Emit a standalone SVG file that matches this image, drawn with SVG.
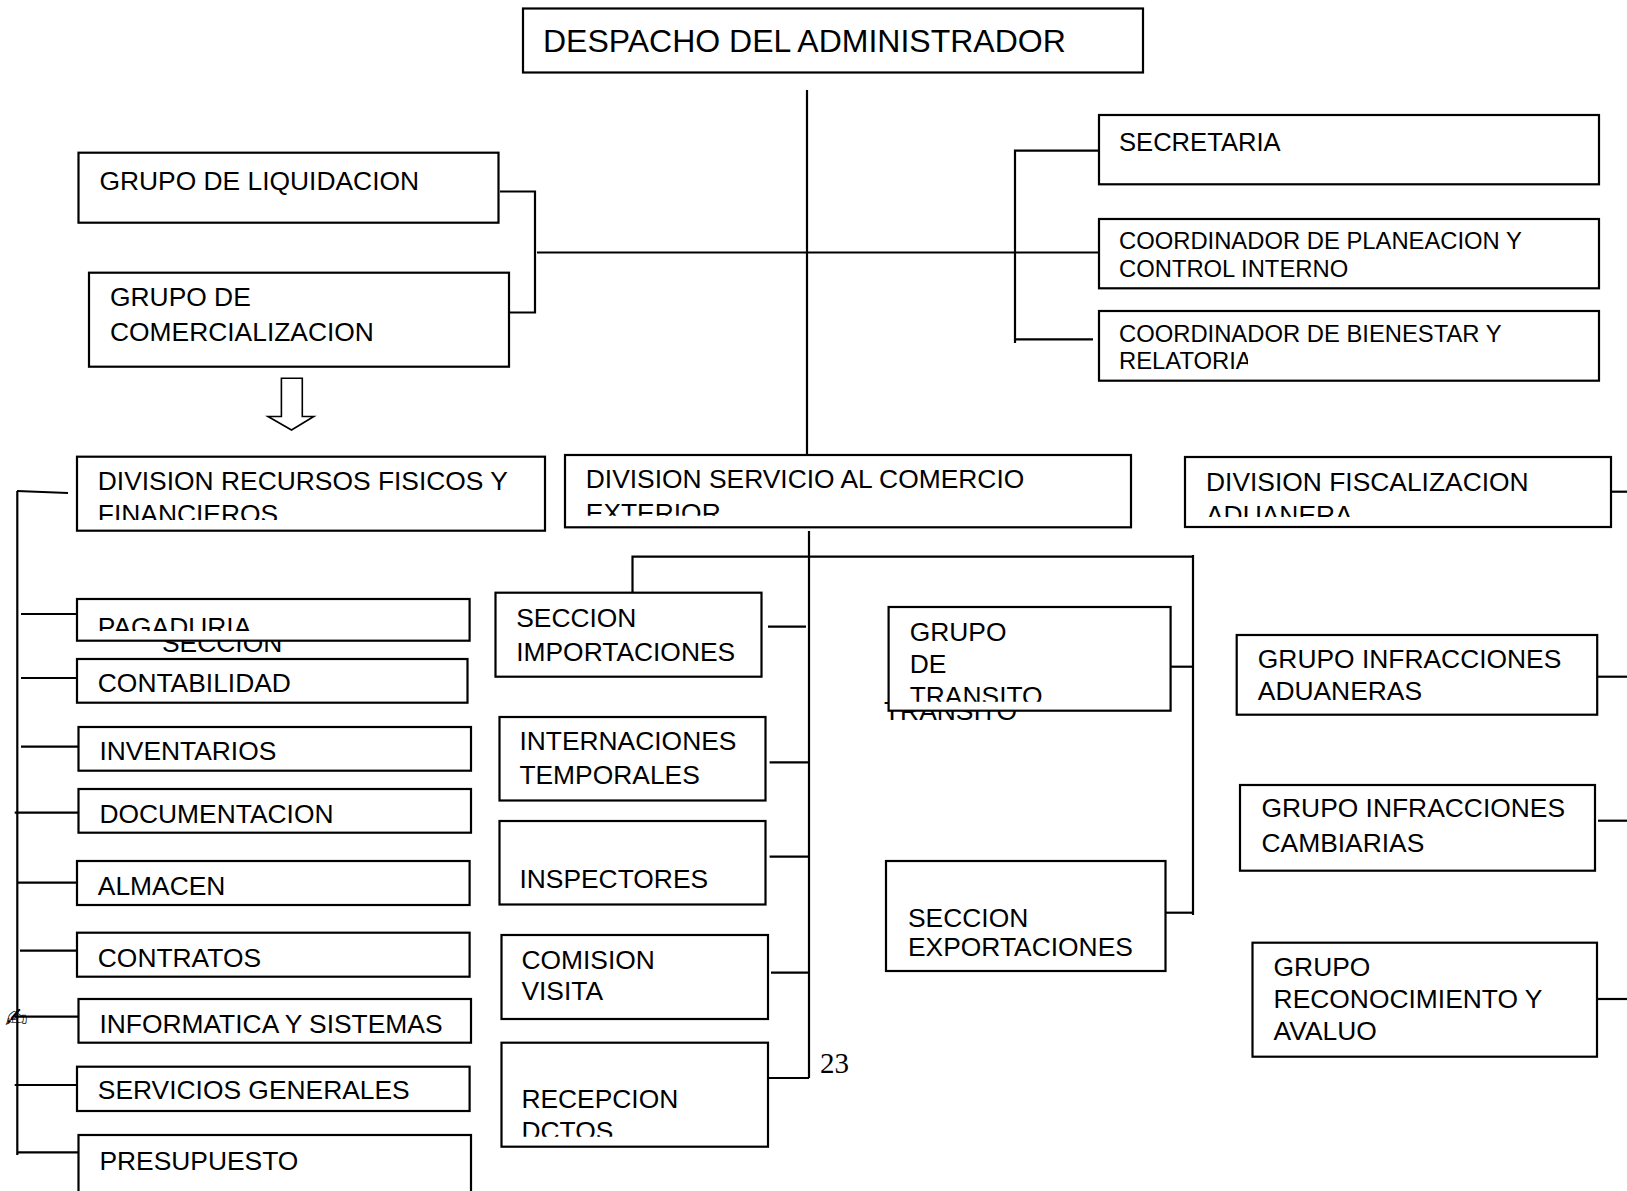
<svg xmlns="http://www.w3.org/2000/svg" width="1627" height="1191" viewBox="0 0 1627 1191">
<style>
.box{fill:#fff;stroke:#000;stroke-width:2.2}
.ln{fill:none;stroke:#000;stroke-width:2.2}
text{font-family:"Liberation Sans",Arial,sans-serif;font-size:26.4px;fill:#000}
.sm{font-size:23.8px}
.big{font-size:32px}
.ser{font-family:"Liberation Serif","Times New Roman",serif;font-size:29px}
</style>
<defs>
<clipPath id="cRec"><rect x="70" y="450" width="480" height="70"/></clipPath>
<clipPath id="cSer"><rect x="560" y="450" width="575" height="65.7"/></clipPath>
<clipPath id="cFis"><rect x="1180" y="450" width="435" height="67"/></clipPath>
<clipPath id="cPag"><rect x="70" y="595" width="400" height="36"/></clipPath>
<clipPath id="cTra"><rect x="885" y="600" width="290" height="101.7"/></clipPath>
<clipPath id="cDct"><rect x="495" y="1040" width="280" height="96.7"/></clipPath>
<clipPath id="cRel"><rect x="1100" y="300" width="148" height="90"/></clipPath>
</defs>

<g id="connectors">
<path class="ln" d="M807,90 V455"/>
<path class="ln" d="M537,252.5 H1098"/>
<path class="ln" d="M500,191.5 H535 V312.5 H502"/>
<path class="ln" d="M1098,150.7 H1015 V343"/>
<path class="ln" d="M1015,339.3 H1093"/>
<path class="ln" d="M17.3,491 V1155"/>
<path class="ln" d="M17,491 L68,493"/>
<path class="ln" d="M21,614 H77"/>
<path class="ln" d="M21,678 H77"/>
<path class="ln" d="M21,746.7 H78.5"/>
<path class="ln" d="M14.7,812.7 H78.5"/>
<path class="ln" d="M17,882.7 H77"/>
<path class="ln" d="M20,950.7 H77"/>
<path class="ln" d="M14.7,1016.7 H78.5"/>
<path class="ln" d="M14.7,1085 H77"/>
<path class="ln" d="M17,1152.3 H78.5"/>
<path class="ln" d="M809,531 V1078"/>
<path class="ln" d="M632.5,592.7 V556.7 H1193"/>
<path class="ln" d="M1193,555 V915"/>
<path class="ln" d="M768,626.7 H806"/>
<path class="ln" d="M769.6,762.3 H809"/>
<path class="ln" d="M769.6,856.7 H809"/>
<path class="ln" d="M771,972.7 H809"/>
<path class="ln" d="M768.6,1078 H809"/>
<path class="ln" d="M1170.8,666.7 H1193"/>
<path class="ln" d="M1165,912.7 H1193"/>
<path class="ln" d="M1611,491.7 H1627"/>
<path class="ln" d="M1598,676.7 H1627"/>
<path class="ln" d="M1598,820.7 H1627"/>
<path class="ln" d="M1598,999 H1627"/>
<polygon fill="#fff" stroke="#000" stroke-width="1.6" points="281.4,378.3 302.3,378.3 302.3,416.5 313.8,416.5 291.5,430 268,416.5 281.4,416.5"/>
</g>

<text x="162" y="652">SECCION</text>
<text x="884" y="719.5">TRANSITO</text>

<g id="despacho"><rect class="box" x="523" y="8.5" width="620" height="64"/><text class="big" x="543" y="51.5">DESPACHO DEL ADMINISTRADOR</text></g>
<g id="liquidacion"><rect class="box" x="78.5" y="152.7" width="420" height="70"/><text x="99.4" y="189.5">GRUPO DE LIQUIDACION</text></g>
<g id="comercializacion"><rect class="box" x="89" y="272.7" width="420" height="94"/><text x="110" y="306">GRUPO DE</text><text x="110" y="340.7">COMERCIALIZACION</text></g>
<g id="secretaria"><rect class="box" x="1099" y="115" width="500" height="69.3"/><text x="1119" y="150.7" style="font-size:25.6px">SECRETARIA</text></g>
<g id="planeacion"><rect class="box" x="1099" y="219" width="500" height="69.3"/><text class="sm" x="1119" y="249.3">COORDINADOR DE PLANEACION Y</text><text class="sm" x="1119" y="276.7">CONTROL INTERNO</text></g>
<g id="bienestar"><rect class="box" x="1099" y="311" width="500" height="69.7"/><text class="sm" x="1119" y="341.7">COORDINADOR DE BIENESTAR Y</text><text class="sm" x="1119" y="368.5" clip-path="url(#cRel)">RELATORIA</text></g>

<g id="div-recursos"><rect class="box" x="77" y="456.7" width="468" height="74"/><g clip-path="url(#cRec)"><text x="97.8" y="490">DIVISION RECURSOS FISICOS Y</text><text x="97.8" y="523">FINANCIEROS</text></g></g>
<g id="div-servicio"><rect class="box" x="565" y="455" width="566" height="72.3"/><g clip-path="url(#cSer)"><text x="585.8" y="488.3">DIVISION SERVICIO AL COMERCIO</text><text x="585.8" y="522">EXTERIOR</text></g></g>
<g id="div-fiscalizacion"><rect class="box" x="1185" y="457" width="426" height="70"/><g clip-path="url(#cFis)"><text x="1206" y="491">DIVISION FISCALIZACION</text><text x="1206" y="524">ADUANERA</text></g></g>

<g id="pagaduria"><rect class="box" x="77" y="599" width="392.6" height="41.7"/><text x="97.8" y="636" clip-path="url(#cPag)">PAGADURIA</text></g>
<g id="contabilidad"><rect class="box" x="77" y="659" width="390.5" height="43.7"/><text x="97.8" y="691.7">CONTABILIDAD</text></g>
<g id="inventarios"><rect class="box" x="78.5" y="727" width="392.5" height="43.7"/><text x="99.4" y="760">INVENTARIOS</text></g>
<g id="documentacion"><rect class="box" x="78.5" y="789" width="392.5" height="43.7"/><text x="99.4" y="822.7">DOCUMENTACION</text></g>
<g id="almacen"><rect class="box" x="77" y="861" width="392.6" height="44"/><text x="97.8" y="895">ALMACEN</text></g>
<g id="contratos"><rect class="box" x="77" y="932.7" width="392.6" height="44"/><text x="97.8" y="966.7">CONTRATOS</text></g>
<g id="informatica"><rect class="box" x="78.5" y="999" width="392.5" height="43.7"/><text x="99.4" y="1032.7">INFORMATICA Y SISTEMAS</text></g>
<g id="servicios"><rect class="box" x="77" y="1066.7" width="392.6" height="44.3"/><text x="97.8" y="1099.3">SERVICIOS GENERALES</text></g>
<g id="presupuesto"><rect class="box" x="78.5" y="1135" width="392.5" height="70"/><text x="99.4" y="1170">PRESUPUESTO</text></g>
<text x="5" y="1027" style="font-family:'DejaVu Sans',sans-serif;font-size:27px">✍</text>

<g id="importaciones"><rect class="box" x="495.5" y="592.7" width="266" height="84"/><text x="516.2" y="626.7">SECCION</text><text x="516.2" y="660.7">IMPORTACIONES</text></g>
<g id="internaciones"><rect class="box" x="499.5" y="717" width="266" height="83.5"/><text x="519.4" y="750">INTERNACIONES</text><text x="519.4" y="784">TEMPORALES</text></g>
<g id="inspectores"><rect class="box" x="499.5" y="821" width="266" height="83.5"/><text x="519.4" y="888.3">INSPECTORES</text></g>
<g id="comision"><rect class="box" x="501.5" y="935" width="266.5" height="84"/><text x="521.4" y="969.3">COMISION</text><text x="521.4" y="1000">VISITA</text></g>
<g id="recepcion"><rect class="box" x="501.5" y="1042.7" width="266.5" height="104"/><text x="521.4" y="1108.3">RECEPCION</text><text x="521.4" y="1140" clip-path="url(#cDct)">DCTOS</text></g>
<text class="ser" x="820" y="1072.7">23</text>

<g id="transito"><rect class="box" x="888.6" y="607" width="282" height="103.7"/><g clip-path="url(#cTra)"><text x="909.7" y="641">GRUPO</text><text x="909.7" y="673.3">DE</text><text x="909.7" y="705">TRANSITO</text></g></g>
<g id="exportaciones"><rect class="box" x="886" y="861" width="279.5" height="110"/><text x="908" y="926.7">SECCION</text><text x="908" y="956">EXPORTACIONES</text></g>

<g id="infr-aduaneras"><rect class="box" x="1236.7" y="635" width="360.5" height="79.7"/><text x="1257.8" y="668.3">GRUPO INFRACCIONES</text><text x="1257.8" y="700">ADUANERAS</text></g>
<g id="infr-cambiarias"><rect class="box" x="1240" y="785" width="355" height="85.7"/><text x="1261.5" y="817.3">GRUPO INFRACCIONES</text><text x="1261.5" y="851.7">CAMBIARIAS</text></g>
<g id="reconocimiento"><rect class="box" x="1252.5" y="942.7" width="344.5" height="114"/><text x="1273.6" y="976">GRUPO</text><text x="1273.6" y="1008.3">RECONOCIMIENTO Y</text><text x="1273.6" y="1040">AVALUO</text></g>
</svg>
